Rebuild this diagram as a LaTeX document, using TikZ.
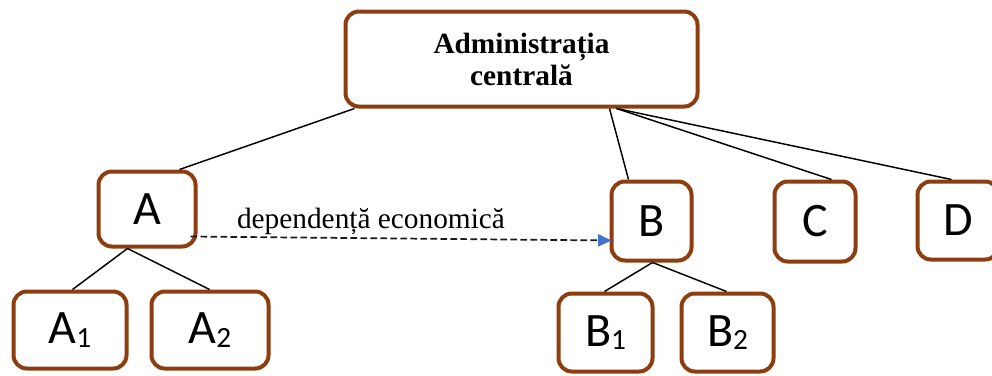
\documentclass[tikz,border=0pt]{standalone}
\usepackage{fontspec}
\setmainfont{Liberation Serif}
\newfontfamily\boxfont{Carlito}
\usetikzlibrary{arrows.meta,calc}
\definecolor{boxbrown}{RGB}{140,62,16}
\definecolor{tipblue}{RGB}{68,114,196}
\begin{document}
\begin{tikzpicture}[x=0.75pt,y=-0.75pt,
  orgbox/.style={draw=boxbrown,line width=3pt,rounded corners=10pt,fill=white,
    inner sep=0pt,font=\boxfont\fontsize{36}{36}\selectfont},
  conn/.style={draw=black,line width=1.1pt},
  dep/.style={draw=black!90,line width=1.3pt,dash pattern=on 5pt off 2.5pt,
    -{Triangle[color=tipblue,length=10pt,width=9pt]}}]
\useasboundingbox (0,0) rectangle (992,375);
\clip (0,0) rectangle (992,375);
\newcommand{\subd}[1]{\raisebox{-2.5pt}{\fontsize{22}{22}\selectfont #1}}
% nodes
\node[orgbox,minimum width=264pt,minimum height=71.25pt,align=center,
  font=\fontsize{22}{24}\selectfont\bfseries] (top) at (521.5,59) {Administrația\\centrală};
\node[orgbox,minimum width=72.75pt,minimum height=56.25pt] (A) at (147,209) {A};
\node[orgbox,minimum width=84.75pt,minimum height=57.75pt] (A1) at (70,330) {A\subd{1}};
\node[orgbox,minimum width=87.75pt,minimum height=57.75pt] (A2) at (210,330) {A\subd{2}};
\node[orgbox,minimum width=60pt,minimum height=59.25pt] (B) at (651.5,221) {B};
\node[orgbox,minimum width=60.75pt,minimum height=60pt] (C) at (815,221.5) {C};
\node[orgbox,minimum width=60.75pt,minimum height=58.5pt] (D) at (958,220.5) {D};
\node[orgbox,minimum width=70.5pt,minimum height=58.5pt] (B1) at (605.5,332.5) {B\subd{1}};
\node[orgbox,minimum width=69pt,minimum height=58.5pt] (B2) at (727.5,332.5) {B\subd{2}};
% connectors
\draw[conn] ($(top.south west)+(11,0)$) -- ($(A.north west)+(83,0)$);
\draw[conn] ($(top.south west)+(266,0)$) -- ($(B.north west)+(19,0)$);
\draw[conn] ($(top.south west)+(273,0)$) -- ($(C.north west)+(59,0)$);
\draw[conn] ($(top.south west)+(273,0)$) -- ($(D.north west)+(36,0)$);
\draw[conn] ($(A.south west)+(31,0)$) -- ($(A1.north west)+(61,0)$);
\draw[conn] ($(A.south west)+(31,0)$) -- ($(A2.north west)+(60,0)$);
\draw[conn] ($(B.south west)+(43,0)$) -- ($(B1.north west)+(48,0)$);
\draw[conn] ($(B.south west)+(43,0)$) -- ($(B2.north west)+(47,0)$);
\draw[dep] ($(A.south east)+(-7,-12)$) -- ($(B.south west)+(2,-22)$);
\node[anchor=base,font=\fontsize{22}{24}\selectfont,inner sep=0pt] (lbl) at (371,228) {dependență economică};
\end{tikzpicture}
\end{document}
